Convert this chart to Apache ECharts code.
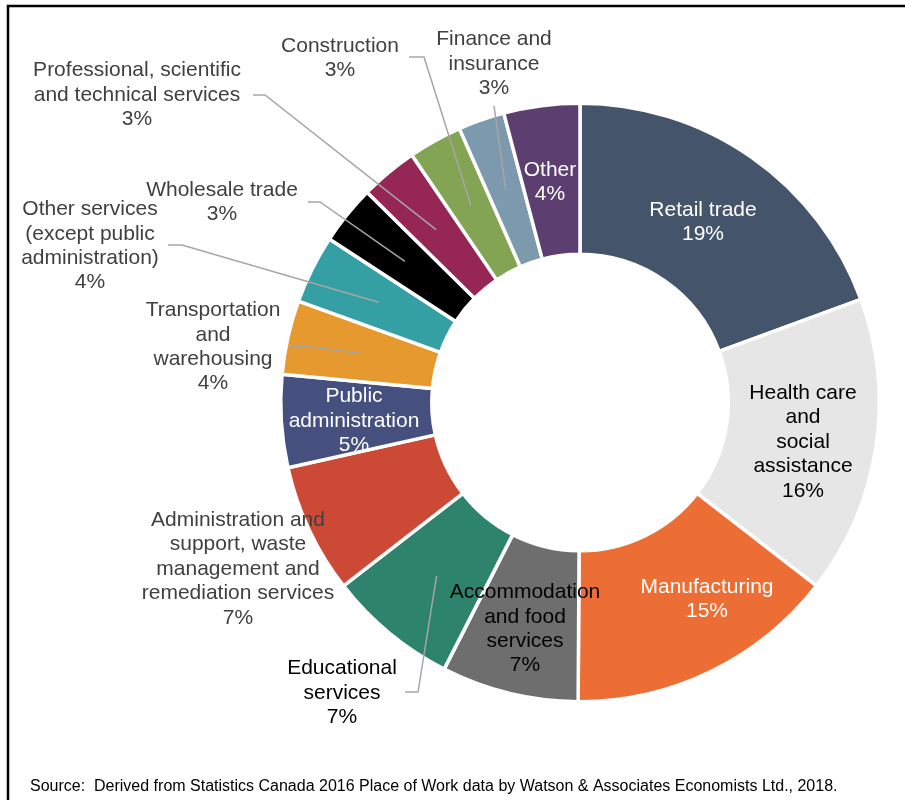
<!DOCTYPE html>
<html>
<head>
<meta charset="utf-8">
<title>Employment by Industry</title>
<script src="https://cdn.jsdelivr.net/npm/echarts@6/dist/echarts.min.js"></script>
<style>
  html, body { margin: 0; padding: 0; background: #ffffff; }
  #chart { width: 905px; height: 800px; }
</style>
</head>
<body>
<div id="chart"></div>
<script>
// Industry categories (line breaks as they appear in the labels)
const categories = [
  'Retail trade',
  'Health care\nand\nsocial\nassistance',
  'Manufacturing',
  'Accommodation\nand food\nservices',
  'Educational\nservices',
  'Administration and\nsupport, waste\nmanagement and\nremediation services',
  'Public\nadministration',
  'Transportation\nand\nwarehousing',
  'Other services\n(except public\nadministration)',
  'Wholesale trade',
  'Professional, scientific\nand technical services',
  'Construction',
  'Finance and\ninsurance',
  'Other'
];

// Share of employment, percent
const shares = [19.4, 16.1, 14.6, 7.4, 7.0, 7.0, 5.0, 4.0, 3.7, 3.2, 3.1, 2.9, 2.5, 4.1];

const sliceColors = [
  '#44546A', '#E7E6E6', '#EC6E35', '#6E6E6E', '#2E836C', '#CC4936', '#45507F',
  '#E6992F', '#34A0A3', '#000000', '#962654', '#83A553', '#7C99AD', '#5D3E70'
];

const sourceNote = 'Source:  Derived from Statistics Canada 2016 Place of Work data by Watson & Associates Economists Ltd., 2018.';

// Label placement: block centre, text colour, and (for callouts) the leader-line bend and end
const labelPlacement = [
  { x: 703, y: 222, color: '#ffffff' },
  { x: 803, y: 442, color: '#000000' },
  { x: 707, y: 599, color: '#ffffff' },
  { x: 525, y: 629, color: '#000000' },
  { x: 342, y: 693, color: '#000000', guide: [[418, 692], [405, 692]] },
  { x: 238, y: 569, color: '#404040' },
  { x: 354, y: 421, color: '#ffffff' },
  { x: 213, y: 347, color: '#404040', guide: [[312, 347], [290, 346]] },
  { x: 90,  y: 246, color: '#404040', guide: [[182, 245], [168, 245]] },
  { x: 222, y: 202, color: '#404040', guide: [[320, 202], [308, 202]] },
  { x: 137, y: 95,  color: '#404040', guide: [[265, 95], [253, 95]] },
  { x: 340, y: 58,  color: '#404040', guide: [[424, 57], [409, 57]] },
  { x: 494, y: 64,  color: '#404040', guide: [[494, 106], [494, 106]] },
  { x: 550, y: 182, color: '#ffffff' }
];

const FONT = '"Liberation Sans", Arial, Helvetica, sans-serif';
const CENTER = [580, 402.5];

const ringData = categories.map((name, i) => ({
  name: name,
  value: shares[i],
  itemStyle: { color: sliceColors[i] }
}));

// Transparent companion pie: carries the labels, its rim (mid-ring) anchors the leader lines
const labelData = categories.map((name, i) => {
  const p = labelPlacement[i];
  const callout = !!p.guide;
  return {
    name: name,
    value: shares[i],
    label: {
      show: true,
      position: callout ? 'outside' : 'inside',
      color: p.color
    },
    labelLine: { show: callout }
  };
});

const chart = echarts.init(document.getElementById('chart'), null, { renderer: 'canvas' });

chart.setOption({
  animation: false,
  backgroundColor: '#ffffff',
  graphic: [
    {
      type: 'rect',
      shape: { x: 8, y: 6, width: 1000, height: 1000 },
      style: { fill: 'none', stroke: '#000000', lineWidth: 2.5 },
      silent: true
    },
    {
      type: 'text',
      left: 30,
      top: 779,
      style: {
        text: sourceNote,
        font: '16px ' + FONT,
        fill: '#000000'
      },
      silent: true
    }
  ],
  series: [
    {
      type: 'pie',
      z: 2,
      center: CENTER,
      radius: [148.25, 299.25],
      startAngle: 90,
      clockwise: true,
      avoidLabelOverlap: false,
      silent: true,
      emphasis: { disabled: true },
      label: { show: false },
      labelLine: { show: false },
      itemStyle: { borderColor: '#ffffff', borderWidth: 3.5 },
      data: ringData
    },
    {
      type: 'pie',
      z: 5,
      center: CENTER,
      radius: [0, 225],
      startAngle: 90,
      clockwise: true,
      avoidLabelOverlap: false,
      silent: true,
      emphasis: { disabled: true },
      itemStyle: { color: 'transparent', borderWidth: 0 },
      label: {
        fontFamily: FONT,
        fontSize: 21,
        lineHeight: 24.4,
        formatter: (params) => params.name + '\n' + Math.round(params.value) + '%'
      },
      labelLine: {
        show: true,
        length: 10,
        length2: 10,
        lineStyle: { color: '#A6A6A6', width: 1.5 }
      },
      labelLayout: function (params) {
        const p = labelPlacement[params.dataIndex];
        const out = { x: p.x, y: p.y, align: 'center', verticalAlign: 'middle' };
        if (p.guide && params.labelLinePoints) {
          out.labelLinePoints = [params.labelLinePoints[0], p.guide[0], p.guide[1]];
        }
        return out;
      },
      data: labelData
    }
  ]
});
</script>
</body>
</html>
